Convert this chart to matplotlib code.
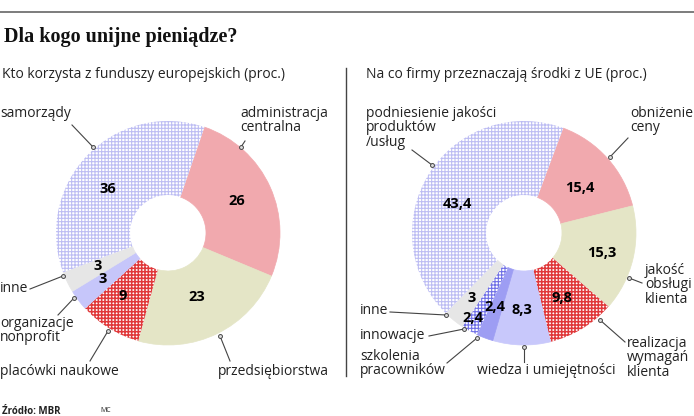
import matplotlib.pyplot as plt
import numpy as np

plt.rcParams['font.family'] = ['Open Sans', 'DejaVu Sans']
plt.rcParams['hatch.linewidth'] = 0.8

W, H = 694, 416

# Kto korzysta z funduszy europejskich (proc.)
kto_kat = ['administracja\ncentralna', 'przedsiębiorstwa', 'placówki naukowe',
           'organizacje\nnonprofit', 'inne', 'samorządy']
kto_val = [26, 23, 9, 3, 3, 36]

# Na co firmy przeznaczają środki z UE (proc.)
firmy_kat = ['obniżenie\nceny', 'jakość\nobsługi\nklienta', 'realizacja\nwymagań\nklienta',
             'wiedza i umiejętności', 'szkolenia\npracowników', 'innowacje', 'inne',
             'podniesienie jakości\nproduktów\n/usług']
firmy_val = [15.4, 15.3, 9.8, 8.3, 2.4, 2.4, 3, 43.4]

PINK = '#f1a9ae'
OLIVE = '#e4e5c6'
GREY = '#e6e6e6'
RED = '#e0383a'
LAV_DOT = '#bdbdf3'

# (kolor, kolor kreskowania lub None)
kto_styl = [(PINK, None), (OLIVE, None), ('white', RED), ('#c6c6fa', None),
            (GREY, None), ('white', LAV_DOT)]
firmy_styl = [(PINK, None), (OLIVE, None), ('white', RED), ('#c8c8fb', None),
              ('#9d9df3', None), ('white', '#7070e6'), (GREY, None), ('white', LAV_DOT)]


def Y(y):
    return H - y


fig = plt.figure(figsize=(W / 100, H / 100), dpi=100)
ax = fig.add_axes([0, 0, 1, 1])


def donut(vals, styl, cx, cy, start, lab_r, lab_da):
    wedges, _ = ax.pie(vals, radius=112, center=(cx, Y(cy)), startangle=start,
                       counterclock=False, wedgeprops=dict(width=74, linewidth=0))
    for w, (fc, hc), v, r, da in zip(wedges, styl, vals, lab_r, lab_da):
        w.set_facecolor(fc)
        if hc:
            w.set_edgecolor(hc)
            w.set_hatch('+++++')
            w.set_linewidth(0)
            if hc == RED and hasattr(w, 'set_hatch_linewidth'):
                w.set_hatch_linewidth(1.1)
        else:
            w.set_edgecolor(fc)
            w.set_linewidth(0.5)
        a = np.radians((w.theta1 + w.theta2) / 2 + da)
        ax.text(cx + r * np.cos(a), Y(cy) + r * np.sin(a), f'{v:g}'.replace('.', ','),
                ha='center', va='center', fontsize=10.5, fontweight='bold', color='black')


donut(kto_val, kto_styl, 168, 233, 71, [76, 70, 77, 80, 78, 75], [1, -2, -4, -2, -1, 8])
donut(firmy_val, firmy_styl, 524, 233, 69.5, [72, 80, 75, 77, 80, 99, 84, 72],
      [-3, -1, -1, 0, -1, -2, 0, 9])


def opis(tekst, x, y, linia, ha='left'):
    ax.text(x, Y(y), tekst, ha=ha, va='top', fontsize=10, color='#222222', linespacing=0.95)
    (x0, y0), (x1, y1) = linia
    ax.plot([x0, x1], [Y(y0), Y(y1)], color='#444444', lw=0.8)
    ax.plot(x1, Y(y1), 'o', ms=2.8, mfc='#dddddd', mec='#444444', mew=0.7)


opis(kto_kat[5], 0, 106, ((72, 125), (93, 147)))
opis(kto_kat[0], 240, 106, ((245, 141), (241, 147)))
opis(kto_kat[4], 0, 281, ((30, 289), (63, 276)))
opis(kto_kat[3], 0, 316, ((58, 315), (74, 298)))
opis(kto_kat[2], 0, 364, ((90, 361), (108, 331)))
opis(kto_kat[1], 218, 364, ((230, 361), (220, 336)))

opis(firmy_kat[7], 366, 106, ((412, 150), (432, 165)))
opis(firmy_kat[0], 630, 106, ((628, 138), (610, 157)))
opis(firmy_kat[1], 645, 263, ((642, 283), (629, 278)))
opis(firmy_kat[2], 627, 336, ((625, 342), (600, 320)))
opis(firmy_kat[3], 477, 363, ((524, 362), (524, 347)))
opis(firmy_kat[4], 360, 349, ((447, 363), (477, 338)))
opis(firmy_kat[5], 360, 328, ((429, 336), (464, 329)))
opis(firmy_kat[6], 360, 303, ((390, 312), (446, 315)))

# ramka, tytuły
ax.plot([0, W], [Y(12), Y(12)], color='#666666', lw=1.2)
ax.plot([346, 346], [Y(68), Y(376)], color='#444444', lw=1)
ax.text(4, Y(42), 'Dla kogo unijne pieniądze?', family=['Liberation Serif'],
        fontweight='bold', fontsize=14.5, color='#111111', va='baseline')
ax.text(2, Y(75), 'Kto korzysta z funduszy europejskich (proc.)', fontsize=10,
        color='#222222', va='center')
ax.text(366, Y(75), 'Na co firmy przeznaczają środki z UE (proc.)', fontsize=10,
        color='#222222', va='center')
ax.text(2, Y(411), 'Źródło: MBR', fontsize=7, fontweight='bold', color='#222222', va='center')
ax.text(100, Y(410), 'MC', fontsize=5, color='#222222', va='center')

ax.set_xlim(0, W)
ax.set_ylim(0, H)
ax.set_aspect('auto')
ax.axis('off')

fig.savefig('out.png', dpi=100)
